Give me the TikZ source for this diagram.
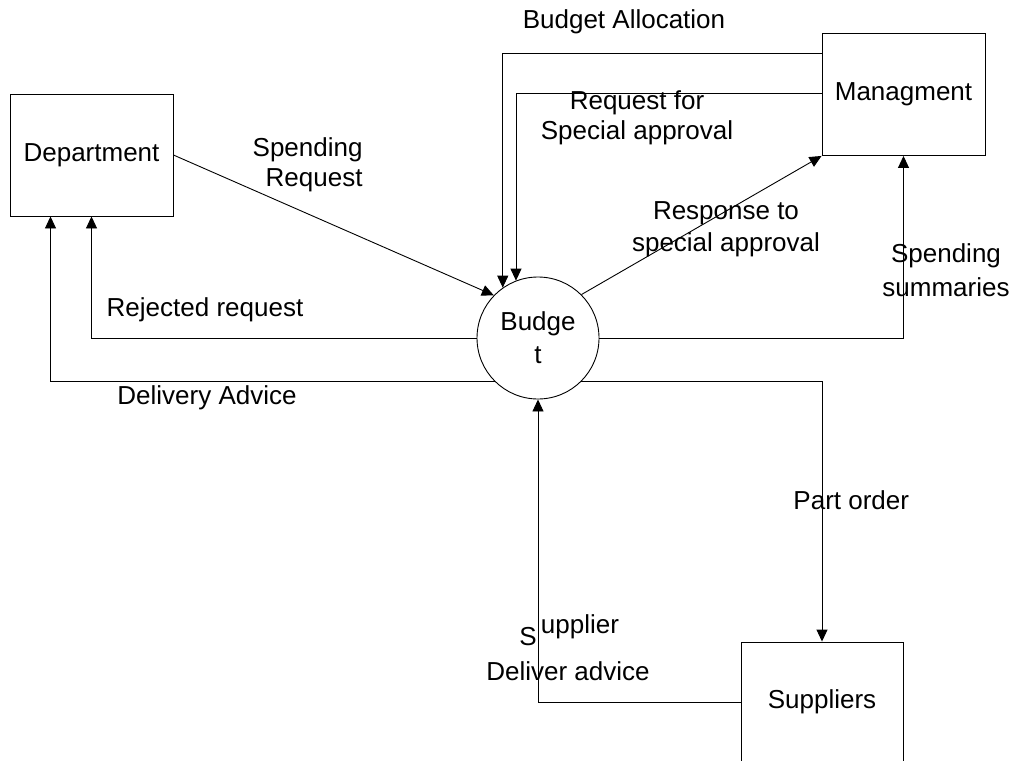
\documentclass[tikz,border=0pt]{standalone}
\usepackage{fontspec}
\setmainfont{Liberation Sans}
\usetikzlibrary{arrows.meta}
\begin{document}
\begin{tikzpicture}[x=1pt,y=-1pt,
  font=\fontsize{26}{31}\selectfont,
  line width=0.9pt,
  box/.style={draw, rectangle, inner sep=0pt, minimum width=163pt, minimum height=122pt},
  proc/.style={draw, circle, inner sep=0pt, minimum size=122pt, align=center, font=\fontsize{26}{33}\selectfont},
  flow/.style={draw, -{Triangle[length=12pt,width=11pt]}},
  lbl/.style={inner sep=0pt, align=center}]
\useasboundingbox (0,0) rectangle (1014,760);
\clip (0,0) rectangle (1014,760);
% entities
\node[box] (dept) at (91.5,155) {Department};
\node[box] (mgmt) at (903.5,94.5) {Managment};
\node[box, minimum width=162pt, minimum height=120pt] (supp) at (822,702) {Suppliers};
\node[proc] (budget) at (538,338) {Budge\\t};
% flows
\draw[flow] ([yshift=-20pt]mgmt.north west) -| (budget.125);
\draw[flow] ([yshift=-60pt]mgmt.north west) -| (budget.111);
\draw[flow] (dept.east) -- (budget.136);
\draw[flow] (budget.45) -- (mgmt.south west);
\draw[flow] (budget.east) -| (mgmt.south);
\draw[flow] (budget.west) -| (dept.south);
\draw[flow] (budget.225) -| ([xshift=-41pt]dept.south);
\draw[flow] (budget.-45) -| (supp.north);
\draw[flow] (supp.west) -| (budget.south);
% labels
\node[lbl] (lba) at (624,22) {Budget Allocation};
\node[lbl, font=\fontsize{26}{30}\selectfont] (lrs) at (637,118) {Request for\\Special approval};
\node[lbl, align=right, anchor=east, font=\fontsize{26}{30}\selectfont] (lsr) at (363,165) {Spending\\Request};
\node[lbl, font=\fontsize{26}{32}\selectfont] (lrp) at (726,229) {Response to\\special approval};
\node[lbl, font=\fontsize{26}{34}\selectfont] (lss) at (946,270) {Spending\\summaries};
\node[lbl] (lrr) at (205,310) {Rejected request};
\node[lbl] (lda) at (207,398) {Delivery Advice};
\node[lbl, anchor=west] (lpo) at (793,500) {Part order};
\node[lbl] (ls1) at (528,637) {S};
\node[lbl] (ls2) at (580,627) {upplier};
\node[lbl] (lsd) at (568,671) {Deliver advice};
\end{tikzpicture}
\end{document}
